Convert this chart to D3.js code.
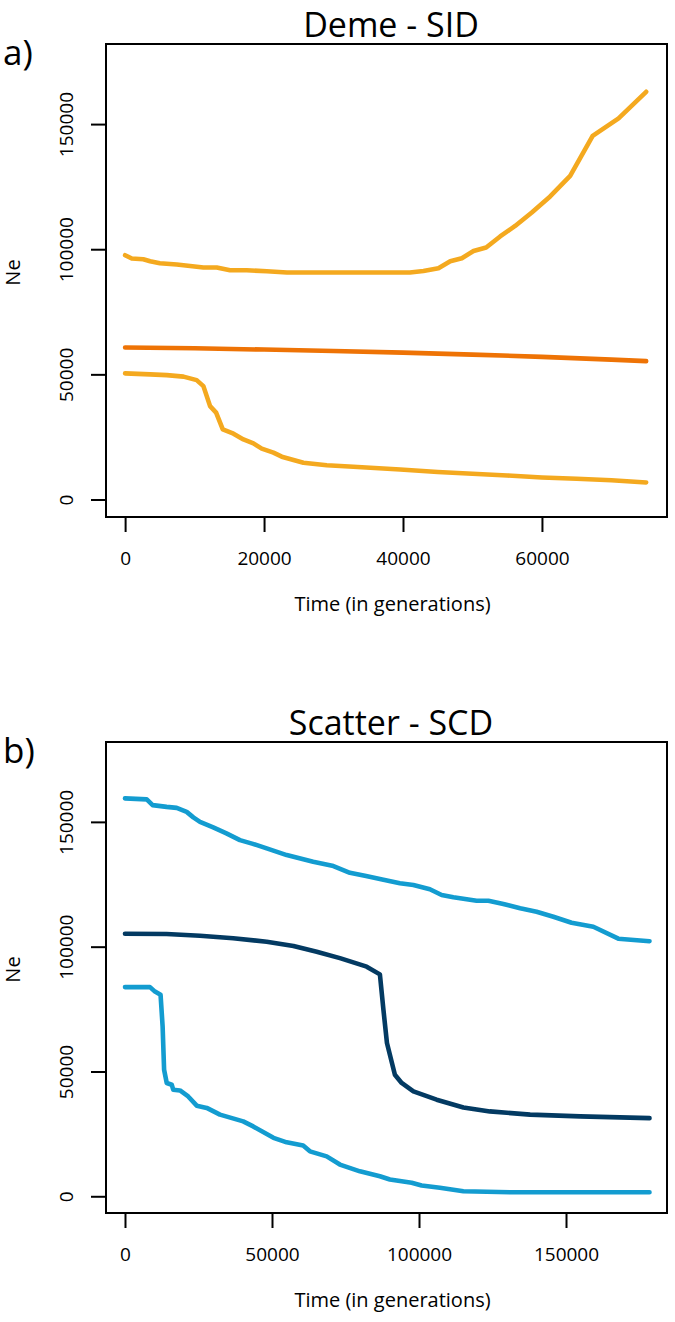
<!DOCTYPE html>
<html>
<head>
<meta charset="utf-8">
<script src="https://cdn.jsdelivr.net/npm/d3@7/dist/d3.min.js"></script>
<style>
  html, body { margin: 0; padding: 0; background: #ffffff; }
  svg { display: block; font-family: "Open Sans", "Noto Sans", sans-serif; }
</style>
</head>
<body>
<svg id="chart" width="675" height="1322"></svg>
<script>
// ---------- Data ----------
const panelTitles = ["Deme - SID", "Scatter - SCD"];
const panelLetters = ["a)", "b)"];
const xAxisTitle = "Time (in generations)";
const yAxisTitle = "Ne";

const yTicks = [0, 50000, 100000, 150000];
const xTicksDeme = [0, 20000, 40000, 60000];
const xTicksScatter = [0, 50000, 100000, 150000];

// Deme - SID: [time, Ne]
const demeUpper = [
  [0, 97600], [960, 96300], [2620, 96000], [3600, 95200], [5000, 94400],
  [7440, 93900], [9360, 93300], [11270, 92700], [13190, 92700], [15100, 91600],
  [17500, 91600], [20400, 91200], [23300, 90700], [27600, 90700], [32400, 90700],
  [36700, 90700], [41000, 90700], [42940, 91300], [45100, 92400], [46800, 95200],
  [48470, 96400], [50150, 99300], [51970, 100700], [53980, 105100], [56140, 109300],
  [58540, 114700], [61180, 121100], [64060, 129300], [67300, 145300], [71030, 152300],
  [75000, 162900]
];
const demeMedian = [
  [0, 60700], [10000, 60400], [20000, 59900], [30000, 59300], [40000, 58700],
  [50000, 57900], [60000, 57000], [70000, 55900], [75000, 55300]
];
const demeLower = [
  [0, 50400], [3600, 50000], [6000, 49700], [8400, 49100], [10300, 47700],
  [11270, 45300], [12230, 37300], [13100, 34700], [14060, 28000], [15600, 26300],
  [17030, 24000], [18470, 22400], [19670, 20300], [21350, 18700], [22550, 17100],
  [25670, 14700], [29030, 13700], [32860, 13100], [39600, 12000], [45000, 11000],
  [50000, 10300], [55000, 9600], [60000, 8800], [65000, 8300], [70000, 7700],
  [75000, 6800]
];

// Scatter - SCD: [time, Ne]
const scatterUpper = [
  [0, 159400], [7400, 159000], [9400, 156700], [14160, 156000], [17580, 155600],
  [20980, 154000], [23240, 151800], [25510, 150000], [30000, 147800], [34500, 145400],
  [39100, 142700], [43500, 141200], [48200, 139400], [55000, 136700], [64000, 134000],
  [70900, 132300], [76500, 129600], [82000, 128300], [87500, 126900], [93500, 125400],
  [98100, 124700], [103700, 123000], [107700, 120700], [111700, 119800], [119600, 118400],
  [123600, 118400], [128700, 117100], [134400, 115400], [140000, 114000], [145700, 112000],
  [151900, 109600], [159300, 108000], [167800, 103200], [178400, 102200]
];
const scatterMedian = [
  [0, 105200], [14150, 105100], [25500, 104400], [36800, 103400], [48200, 102000],
  [57300, 100300], [65200, 98000], [73100, 95400], [82200, 92000], [86700, 88900],
  [87900, 74700], [89100, 61400], [91800, 48700], [94100, 45400], [98100, 42000],
  [106000, 38700], [115100, 35600], [124100, 34000], [137800, 32700], [154800, 32000],
  [178400, 31300]
];
const scatterLower = [
  [0, 83800], [8500, 83800], [10200, 82000], [12100, 80700], [12800, 68000],
  [13300, 50700], [14200, 45400], [15900, 44700], [16400, 42700], [18700, 42400],
  [21500, 40000], [24400, 36300], [27800, 35400], [32300, 32700], [40200, 30000],
  [43600, 28000], [50500, 23400], [55000, 21600], [60600, 20300], [62900, 18000],
  [68600, 16000], [73100, 12700], [79900, 10000], [86700, 8000], [90100, 6700],
  [97500, 5400], [100900, 4300], [107100, 3400], [115100, 2000], [132100, 1600],
  [178400, 1600]
];

// ---------- Styles ----------
const colYellow = "#f4a91f";
const colOrange = "#ee7305";
const colLightBlue = "#139cd0";
const colNavy = "#033a62";

const panels = [
  {
    title: panelTitles[0], letter: panelLetters[0], top: 44, bottom: 517,
    xDomain: [-2750, 78000], yDomain: [-7000, 182000], xTicks: xTicksDeme,
    series: [
      { data: demeUpper, color: colYellow },
      { data: demeLower, color: colYellow },
      { data: demeMedian, color: colOrange }
    ]
  },
  {
    title: panelTitles[1], letter: panelLetters[1], top: 742, bottom: 1213,
    xDomain: [-6460, 184350], yDomain: [-6700, 182000], xTicks: xTicksScatter,
    series: [
      { data: scatterUpper, color: colLightBlue },
      { data: scatterLower, color: colLightBlue },
      { data: scatterMedian, color: colNavy }
    ]
  }
];

const left = 106, right = 667;
const svg = d3.select("#chart");
svg.append("rect").attr("width", 675).attr("height", 1322).attr("fill", "#fff");

panels.forEach(p => {
  const x = d3.scaleLinear().domain(p.xDomain).range([left, right]);
  const y = d3.scaleLinear().domain(p.yDomain).range([p.bottom, p.top]);
  const g = svg.append("g");

  // series
  const line = d3.line().x(d => x(d[0])).y(d => y(d[1]));
  p.series.forEach(s => {
    g.append("path")
      .datum(s.data)
      .attr("d", line)
      .attr("fill", "none")
      .attr("stroke", s.color)
      .attr("stroke-width", 4.6)
      .attr("stroke-linejoin", "round")
      .attr("stroke-linecap", "round");
  });

  // box
  g.append("rect")
    .attr("x", left).attr("y", p.top)
    .attr("width", right - left).attr("height", p.bottom - p.top)
    .attr("fill", "none").attr("stroke", "#000").attr("stroke-width", 2);

  // x axis
  const xa = g.append("g")
    .attr("transform", `translate(0,${p.bottom})`)
    .call(d3.axisBottom(x).tickValues(p.xTicks).tickSize(15).tickFormat(d3.format("d")));
  xa.select(".domain").remove();
  xa.selectAll(".tick line").attr("stroke", "#000").attr("stroke-width", 2);
  xa.selectAll(".tick text")
    .attr("y", 35).attr("dy", "0.71em")
    .attr("font-size", 19).attr("fill", "#000")
    .attr("font-family", "'Open Sans', 'Noto Sans', sans-serif");

  // y axis
  const ya = g.append("g")
    .attr("transform", `translate(${left},0)`)
    .call(d3.axisLeft(y).tickValues(yTicks).tickSize(15).tickFormat(d3.format("d")));
  ya.select(".domain").remove();
  ya.selectAll(".tick line").attr("stroke", "#000").attr("stroke-width", 2);
  ya.selectAll(".tick text")
    .attr("x", null).attr("dy", null)
    .attr("transform", "translate(-33,0) rotate(-90)")
    .attr("text-anchor", "middle")
    .attr("font-size", 19).attr("fill", "#000")
    .attr("font-family", "'Open Sans', 'Noto Sans', sans-serif");

  // axis titles
  g.append("text")
    .attr("x", (left + right) / 2 + 6).attr("y", p.bottom + 94)
    .attr("text-anchor", "middle").attr("font-size", 20).attr("fill", "#000")
    .text(xAxisTitle);
  g.append("text")
    .attr("transform", `translate(20,${(p.top + p.bottom) / 2 - 8}) rotate(-90)`)
    .attr("text-anchor", "middle").attr("font-size", 20).attr("fill", "#000")
    .text(yAxisTitle);

  // panel title
  g.append("text")
    .attr("x", 391).attr("y", p.top - 7)
    .attr("text-anchor", "middle").attr("font-size", 34).attr("fill", "#000")
    .text(p.title);

  // panel letter
  g.append("text")
    .attr("x", 3).attr("y", p.top + 21)
    .attr("font-size", 35).attr("fill", "#000")
    .text(p.letter);
});
</script>
</body>
</html>
